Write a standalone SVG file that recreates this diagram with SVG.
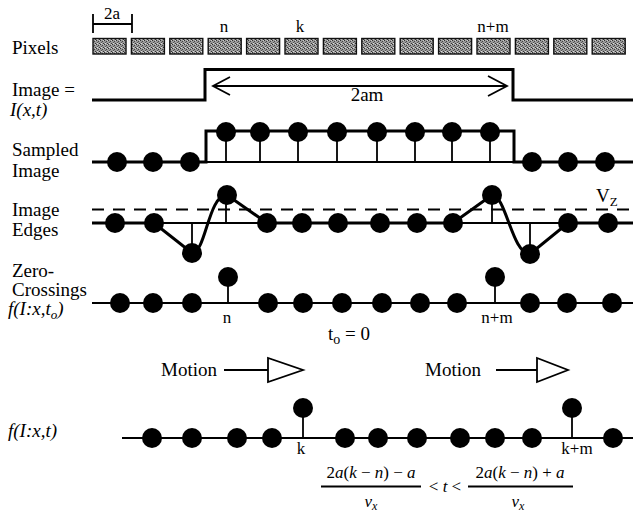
<svg xmlns="http://www.w3.org/2000/svg" width="633" height="514" viewBox="0 0 633 514">
  <style>
    text { font-family: "Liberation Serif", "Times New Roman", serif; fill: #000; }
    .lbl { font-size: 19px; }
    .sm { font-size: 17px; }
    .it { font-style: italic; }
    .thick { stroke: #000; stroke-width: 3; fill: none; }
    .thin { stroke: #000; stroke-width: 1.8; fill: none; }
    .dot { fill: #000; }
    .px { fill: url(#stipple); stroke: #111; stroke-width: 1.4; }
  </style>
  <defs>
    <pattern id="stipple" width="4" height="4" patternUnits="userSpaceOnUse">
      <rect width="4" height="4" fill="#9a9a9a"/>
      <rect x="0" y="0" width="1" height="1" fill="#333"/>
      <rect x="2" y="1" width="1" height="1" fill="#444"/>
      <rect x="1" y="2" width="1" height="1" fill="#555"/>
      <rect x="3" y="3" width="1" height="1" fill="#333"/>
      <rect x="3" y="0" width="1" height="1" fill="#ccc"/>
      <rect x="1" y="3" width="1" height="1" fill="#ddd"/>
    </pattern>
  </defs>

  <!-- pixel row -->
  <g id="pixels">
    <text class="lbl" x="12" y="54">Pixels</text>
    <path class="thin" d="M93,14 V33 M93,24 H132 M132,14 V33"/>
    <text class="sm" x="112" y="19" text-anchor="middle">2a</text>
    <text class="sm" x="224" y="32" text-anchor="middle">n</text>
    <text class="sm" x="300" y="32" text-anchor="middle">k</text>
    <text class="sm" x="493" y="32" text-anchor="middle">n+m</text>
    <rect class="px" x="93" y="38.5" width="33" height="15.5"/>
    <rect class="px" x="131.4" y="38.5" width="33" height="15.5"/>
    <rect class="px" x="169.8" y="38.5" width="33" height="15.5"/>
    <rect class="px" x="208.2" y="38.5" width="33" height="15.5"/>
    <rect class="px" x="246.6" y="38.5" width="33" height="15.5"/>
    <rect class="px" x="285" y="38.5" width="33" height="15.5"/>
    <rect class="px" x="323.4" y="38.5" width="33" height="15.5"/>
    <rect class="px" x="361.8" y="38.5" width="33" height="15.5"/>
    <rect class="px" x="400.2" y="38.5" width="33" height="15.5"/>
    <rect class="px" x="438.6" y="38.5" width="33" height="15.5"/>
    <rect class="px" x="477" y="38.5" width="33" height="15.5"/>
    <rect class="px" x="515.4" y="38.5" width="33" height="15.5"/>
    <rect class="px" x="553.8" y="38.5" width="33" height="15.5"/>
    <rect class="px" x="592.2" y="38.5" width="33" height="15.5"/>
  </g>

  <!-- continuous image I(x,t) -->
  <g id="image">
    <text class="lbl" x="12" y="96">Image =</text>
    <text class="lbl it" x="10" y="116">I(x,t)</text>
    <path class="thick" d="M92,100 H205 V69.5 H513 V100 H633"/>
    <path class="thin" d="M213,86 H507 M230,77 L213,86 L230,95 M488,76 L507,86 L488,96"/>
    <text class="lbl" x="367" y="101" text-anchor="middle">2am</text>
  </g>

  <!-- sampled image -->
  <g id="sampled">
    <text class="lbl" x="12" y="156">Sampled</text>
    <text class="lbl" x="12" y="177">Image</text>
    <path class="thick" d="M92,162 H206 V131 H514 V162 H633"/>
    <path class="thin" d="M206,162 H514 M226,132 V162 M260,132 V162 M298,132 V162 M337,132 V162 M377,132 V162 M415,132 V162 M452,132 V162 M490,132 V162"/>
    <circle class="dot" cx="117" cy="162" r="10"/>
    <circle class="dot" cx="153" cy="162" r="10"/>
    <circle class="dot" cx="190" cy="162" r="10"/>
    <circle class="dot" cx="226" cy="132" r="10"/>
    <circle class="dot" cx="260" cy="132" r="10"/>
    <circle class="dot" cx="298" cy="132" r="10"/>
    <circle class="dot" cx="337" cy="132" r="10"/>
    <circle class="dot" cx="377" cy="132" r="10"/>
    <circle class="dot" cx="415" cy="132" r="10"/>
    <circle class="dot" cx="452" cy="132" r="10"/>
    <circle class="dot" cx="490" cy="132" r="10"/>
    <circle class="dot" cx="532" cy="162" r="10"/>
    <circle class="dot" cx="568" cy="162" r="10"/>
    <circle class="dot" cx="605" cy="162" r="10"/>
  </g>

  <!-- edge response -->
  <g id="edges">
    <text class="lbl" x="12" y="216">Image</text>
    <text class="lbl" x="12" y="236">Edges</text>
    <path class="thin" d="M92,209.5 H633" stroke-dasharray="12 9"/>
    <text class="lbl" x="596" y="202">V<tspan font-size="13" dy="4">Z</tspan></text>
    <path class="thin" d="M154,223 H267 M453,223 H568 M192,223 V253 M226,195 V223 M492,195 V223 M530,223 V254"/>
    <path class="thick" d="M92,223 H154 L192,253 C206,253 208,195 227,195 L267,223 H453 L492,195 C506,195 512,254 530,254 L568,223 H633"/>
    <circle class="dot" cx="115" cy="223" r="10"/>
    <circle class="dot" cx="154" cy="223" r="10"/>
    <circle class="dot" cx="192" cy="253" r="10"/>
    <circle class="dot" cx="227" cy="195" r="10"/>
    <circle class="dot" cx="267" cy="223" r="10"/>
    <circle class="dot" cx="302" cy="223" r="10"/>
    <circle class="dot" cx="338" cy="223" r="10"/>
    <circle class="dot" cx="380" cy="223" r="10"/>
    <circle class="dot" cx="417" cy="223" r="10"/>
    <circle class="dot" cx="453" cy="223" r="10"/>
    <circle class="dot" cx="492" cy="195" r="10"/>
    <circle class="dot" cx="530" cy="254" r="10"/>
    <circle class="dot" cx="568" cy="223" r="10"/>
    <circle class="dot" cx="608" cy="223" r="10"/>
  </g>

  <!-- zero-crossings at t0 -->
  <g id="zero-crossings">
    <text class="lbl" x="12" y="277">Zero-</text>
    <text class="lbl" x="12" y="296">Crossings</text>
    <text class="lbl it" x="8" y="315">f(I:x,t<tspan font-size="13" dy="4">o</tspan><tspan dy="-4">)</tspan></text>
    <path class="thin" d="M92,303 H633 M228,277 V303 M495,277 V303"/>
    <circle class="dot" cx="120" cy="303" r="10"/>
    <circle class="dot" cx="153" cy="303" r="10"/>
    <circle class="dot" cx="192" cy="303" r="10"/>
    <circle class="dot" cx="228" cy="277" r="10"/>
    <circle class="dot" cx="268" cy="303" r="10"/>
    <circle class="dot" cx="303" cy="303" r="10"/>
    <circle class="dot" cx="342" cy="303" r="10"/>
    <circle class="dot" cx="382" cy="303" r="10"/>
    <circle class="dot" cx="420" cy="303" r="10"/>
    <circle class="dot" cx="457" cy="303" r="10"/>
    <circle class="dot" cx="495" cy="277" r="10"/>
    <circle class="dot" cx="530" cy="303" r="10"/>
    <circle class="dot" cx="567" cy="303" r="10"/>
    <circle class="dot" cx="612" cy="303" r="10"/>
    <text class="sm" x="227" y="323" text-anchor="middle">n</text>
    <text class="sm" x="497" y="323" text-anchor="middle">n+m</text>
    <text class="lbl" x="328" y="340">t<tspan font-size="14" dy="4">o</tspan><tspan dy="-4"> = 0</tspan></text>
  </g>

  <!-- motion indicators -->
  <g id="motion">
    <text class="lbl" x="161" y="376">Motion</text>
    <path class="thin" d="M224,370 H268 M268,358 V382 L303,370 Z"/>
    <text class="lbl" x="425" y="376">Motion</text>
    <path class="thin" d="M496,370 H537 M537,358 V382 L568,370 Z"/>
  </g>

  <!-- zero-crossings at time t -->
  <g id="zero-crossings-t">
    <text class="lbl it" x="8" y="437">f(I:x,t)</text>
    <path class="thin" d="M122,438 H633 M303,408 V438 M572,408 V438"/>
    <circle class="dot" cx="152" cy="438" r="10"/>
    <circle class="dot" cx="192" cy="438" r="10"/>
    <circle class="dot" cx="237" cy="438" r="10"/>
    <circle class="dot" cx="272" cy="438" r="10"/>
    <circle class="dot" cx="303" cy="408" r="10"/>
    <circle class="dot" cx="345" cy="438" r="10"/>
    <circle class="dot" cx="378" cy="438" r="10"/>
    <circle class="dot" cx="417" cy="438" r="10"/>
    <circle class="dot" cx="460" cy="438" r="10"/>
    <circle class="dot" cx="495" cy="438" r="10"/>
    <circle class="dot" cx="532" cy="438" r="10"/>
    <circle class="dot" cx="572" cy="408" r="10"/>
    <circle class="dot" cx="613" cy="438" r="10"/>
    <text class="sm" x="301" y="454" text-anchor="middle">k</text>
    <text class="sm" x="577" y="454" text-anchor="middle">k+m</text>
  </g>

  <!-- time interval -->
  <g id="interval">
    <text class="sm" x="371" y="478" text-anchor="middle">2<tspan class="it">a</tspan>(<tspan class="it">k</tspan> − <tspan class="it">n</tspan>) − <tspan class="it">a</tspan></text>
    <path class="thin" d="M321,486.5 H421 M468,486.5 H573" stroke-width="1.5"/>
    <text class="sm it" x="371" y="507" text-anchor="middle">v<tspan font-size="12" dy="3">x</tspan></text>
    <text class="sm" x="445" y="492" text-anchor="middle">&lt; <tspan class="it">t</tspan> &lt;</text>
    <text class="sm" x="520" y="478" text-anchor="middle">2<tspan class="it">a</tspan>(<tspan class="it">k</tspan> − <tspan class="it">n</tspan>) + <tspan class="it">a</tspan></text>
    <text class="sm it" x="518" y="507" text-anchor="middle">v<tspan font-size="12" dy="3">x</tspan></text>
  </g>
</svg>
